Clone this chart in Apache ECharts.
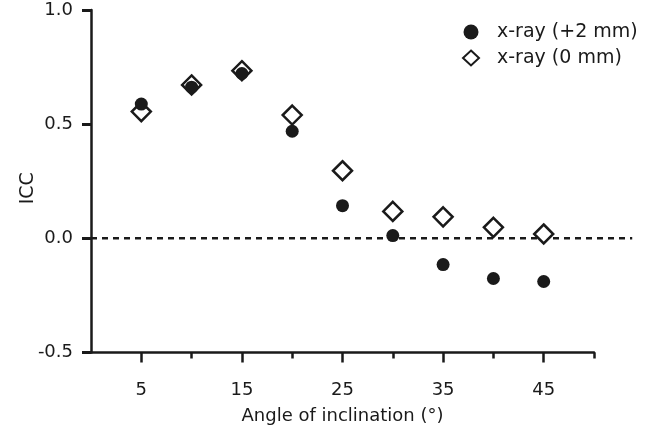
<!DOCTYPE html>
<html>
<head>
    <meta charset="utf-8">
    <title>ICC vs angle</title>
    <script src="https://cdn.jsdelivr.net/npm/echarts@6/dist/echarts.min.js"></script>
</head>
<body style="margin:0">
<div id="main" style="width: 645px;height:437px;"></div>
<script type="text/javascript">
    // data
    var angles = [5, 10, 15, 20, 25, 30, 35, 40, 45];
    var icc2mm = [0.588, 0.662, 0.722, 0.469, 0.143, 0.012, -0.115, -0.176, -0.189];
    var icc0mm = [0.555, 0.672, 0.734, 0.540, 0.296, 0.118, 0.094, 0.048, 0.019];
    var majorTicks = [5, 15, 25, 35, 45];
    var minorTicks = [10, 20, 30, 40, 50];
    // dashed reference line at ICC = 0, runs a bit past the end of the x axis
    var zeroLine = [[0, 0], [53.8, 0]];

    function pairs(xs, ys) {
        var out = [];
        for (var i = 0; i < xs.length; i++) {
            out.push([xs[i], ys[i]]);
        }
        return out;
    }

    var ink = '#1a1a1a';
    var font = 'DejaVu Sans';
    var unit = 503 / 50; // px per degree in the main grid

    var myChart = echarts.init(document.getElementById('main'));

    var option = {
        animation: false,
        backgroundColor: '#fff',
        textStyle: {fontFamily: font, color: ink},
        grid: [
            {left: 91, right: 51, top: 10, bottom: 84.5},
            // same scale, wider to the right: holds the zero line only
            {left: 91, right: 645 - 91 - 53.8 * unit, top: 10, bottom: 84.5}
        ],
        legend: {
            orient: 'vertical',
            left: 457,
            top: 17,
            itemGap: 6,
            itemWidth: 16,
            itemHeight: 15,
            textStyle: {fontFamily: font, fontSize: 19, color: ink, lineHeight: 20, padding: [0, 0, 0, 13]},
            data: ['x-ray (+2 mm)', 'x-ray (0 mm)']
        },
        xAxis: [
            {
                type: 'value', min: 0, max: 50, gridIndex: 0,
                name: 'Angle of inclination (°)',
                nameLocation: 'middle',
                nameGap: 55,
                nameMoveOverlap: false,
                nameTextStyle: {fontFamily: font, fontSize: 18, color: ink},
                axisLine: {onZero: false, lineStyle: {color: ink, width: 2.5}},
                axisTick: {customValues: majorTicks, length: 10, lineStyle: {color: ink, width: 2.5}},
                axisLabel: {customValues: majorTicks, margin: 29, fontFamily: font, fontSize: 18, color: ink},
                splitLine: {show: false}
            },
            {
                type: 'value', min: 0, max: 50, gridIndex: 0, position: 'bottom',
                axisLine: {show: false, onZero: false},
                axisTick: {customValues: minorTicks, length: 6, lineStyle: {color: ink, width: 2.5}},
                axisLabel: {show: false},
                splitLine: {show: false}
            },
            {
                type: 'value', min: 0, max: 53.8, gridIndex: 1, show: false
            }
        ],
        yAxis: [
            {
                type: 'value', min: -0.5, max: 1, interval: 0.5, gridIndex: 0,
                name: 'ICC',
                nameLocation: 'middle',
                nameGap: 53,
                nameMoveOverlap: false,
                nameTextStyle: {fontFamily: font, fontSize: 19, color: ink, padding: [0, 14, 0, 0]},
                axisLine: {onZero: false, lineStyle: {color: ink, width: 2.5}},
                axisTick: {length: 9, lineStyle: {color: ink, width: 3}},
                axisLabel: {
                    margin: 18, fontFamily: font, fontSize: 18, color: ink,
                    formatter: function (v) { return v.toFixed(1); }
                },
                splitLine: {show: false}
            },
            {
                type: 'value', min: -0.5, max: 1, gridIndex: 1, show: false
            }
        ],
        series: [
            {
                name: 'zero',
                type: 'line',
                xAxisIndex: 2,
                yAxisIndex: 1,
                data: zeroLine,
                symbol: 'none',
                silent: true,
                lineStyle: {color: ink, width: 2.5, type: [6, 5]},
                z: 1
            },
            {
                name: 'x-ray (0 mm)',
                type: 'scatter',
                data: pairs(angles, icc0mm),
                symbol: 'diamond',
                symbolSize: [19, 19],
                itemStyle: {color: '#fff', borderColor: ink, borderWidth: 2.5, opacity: 1},
                z: 2
            },
            {
                name: 'x-ray (+2 mm)',
                type: 'scatter',
                data: pairs(angles, icc2mm),
                symbol: 'circle',
                symbolSize: 13,
                itemStyle: {color: ink, opacity: 1},
                z: 3
            }
        ]
    };

    myChart.setOption(option);
</script>
</body>
</html>
